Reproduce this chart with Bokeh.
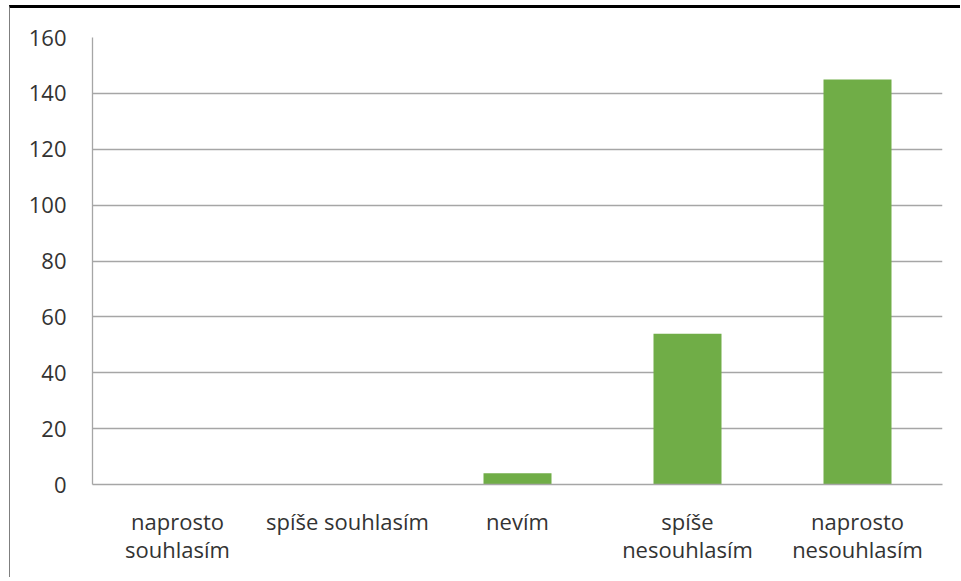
from bokeh.plotting import figure
from bokeh.models import ColumnDataSource, FixedTicker
from bokeh.embed import file_html
from bokeh.resources import INLINE

categories = ["naprosto\nsouhlasím", "spíše souhlasím", "nevím", "spíše\nnesouhlasím", "naprosto\nnesouhlasím"]
values = [0, 0, 4, 54, 145]
y_ticks = [0, 20, 40, 60, 80, 100, 120, 140, 160]

src = ColumnDataSource(dict(cat=categories, val=values))

p = figure(x_range=categories, y_range=(0, 160), width=951, height=572,
           output_backend="svg", toolbar_location=None,
           min_border_left=82, min_border_top=29, min_border_right=19, min_border_bottom=96)
p.vbar(x="cat", top="val", width=0.4, source=src, color="#70ad47", line_color=None)

font = "Open Sans"
txt = "#333333"
grid = "#a6a6a6"

p.outline_line_color = None
p.xgrid.grid_line_color = None
p.ygrid.grid_line_color = grid
p.ygrid.grid_line_width = 1.3
p.yaxis.ticker = FixedTicker(ticks=y_ticks)

for ax in (p.xaxis[0], p.yaxis[0]):
    ax.major_tick_line_color = None
    ax.minor_tick_line_color = None
    ax.axis_line_color = grid
    ax.axis_line_width = 1.3
    ax.major_label_text_font = font
    ax.major_label_text_font_size = "22px"
    ax.major_label_text_color = txt

p.xaxis.major_label_text_line_height = 0.95
p.yaxis.major_label_standoff = 20
p.xaxis.major_label_standoff = 15
p.x_range.range_padding = 0
p.styles = {"margin-left": "9px", "margin-top": "5px",
            "border-top": "3px solid black", "border-left": "1px solid #7f7f7f"}

open("out.html", "w").write(file_html(p, INLINE))
